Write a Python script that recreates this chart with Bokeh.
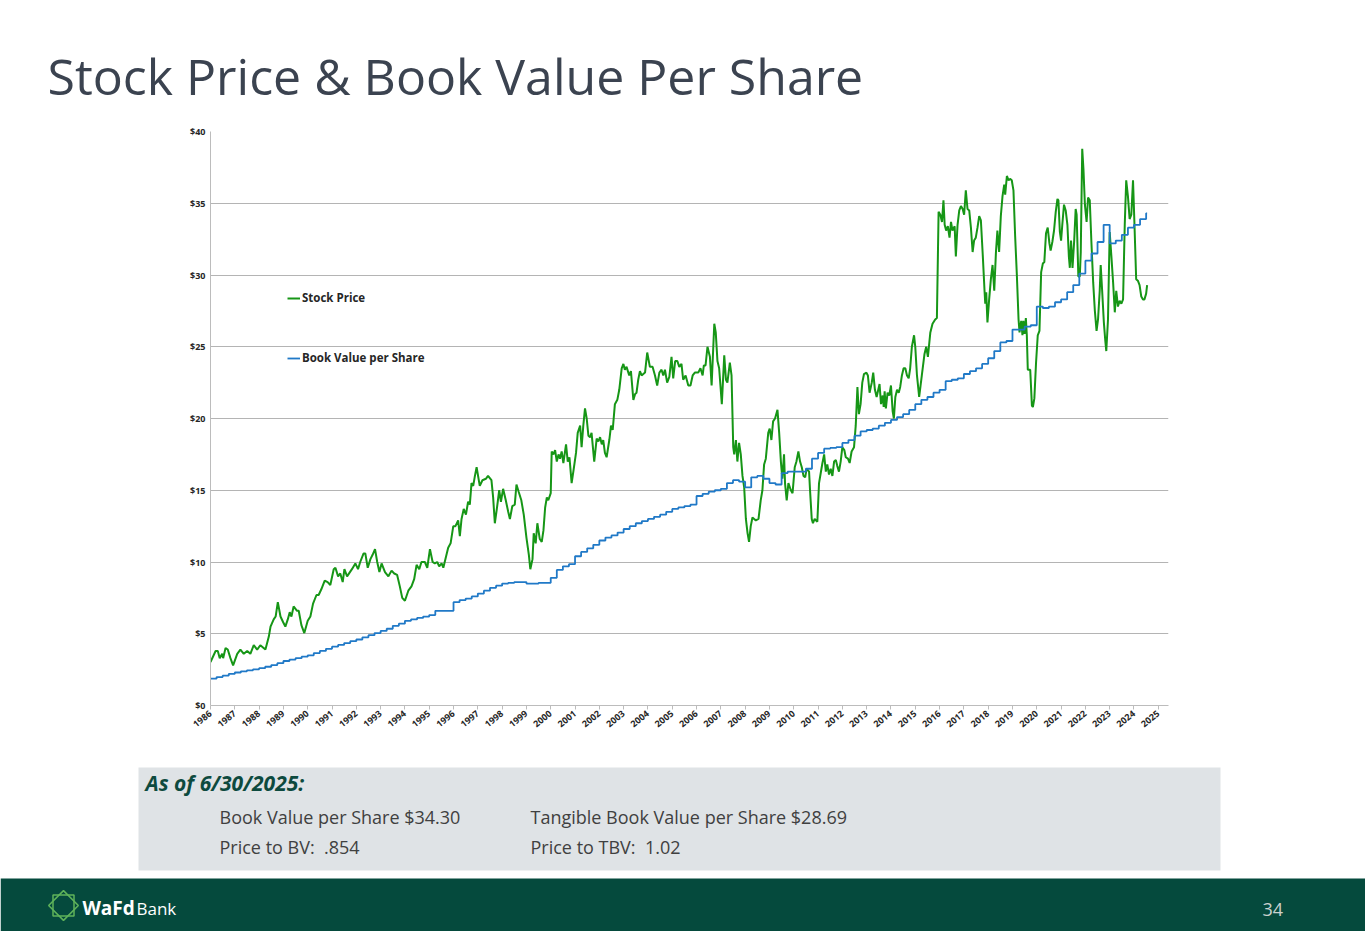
import numpy as np
from bokeh.core.properties import value
from bokeh.embed import file_html
from bokeh.layouts import column
from bokeh.models import (FixedTicker, Legend, LegendItem, NumeralTickFormatter,
                          PrintfTickFormatter, Range1d)
from bokeh.plotting import figure
from bokeh.resources import INLINE

# ---------------------------------------------------------------
# data (decimal year on the axis scale, $ / share)
# ---------------------------------------------------------------
stock_years = [
    1986.00, 1986.21, 1986.30, 1986.38, 1986.48, 1986.52, 1986.62, 1986.71, 1986.82, 1986.93,
    1987.10, 1987.23, 1987.37, 1987.51, 1987.64, 1987.78, 1987.92,
    1988.05, 1988.26, 1988.40, 1988.47, 1988.60, 1988.68, 1988.77, 1988.88, 1988.99,
    1989.08, 1989.18, 1989.26, 1989.33, 1989.42, 1989.56, 1989.63, 1989.74, 1989.86,
    1990.00, 1990.11, 1990.22, 1990.36, 1990.45, 1990.56, 1990.70, 1990.82, 1990.93,
    1991.07, 1991.14, 1991.25, 1991.34, 1991.44, 1991.51, 1991.62, 1991.82, 1991.96,
    1992.07, 1992.16, 1992.30, 1992.37, 1992.47, 1992.58, 1992.67, 1992.77, 1992.86, 1992.95,
    1993.04, 1993.18, 1993.32, 1993.45, 1993.56, 1993.68, 1993.79, 1993.89,
    1994.00, 1994.14, 1994.27, 1994.38, 1994.48, 1994.59, 1994.68, 1994.82, 1994.92,
    1995.03, 1995.14, 1995.23, 1995.33, 1995.41, 1995.51, 1995.58, 1995.68, 1995.78, 1995.88, 1995.99,
    1996.08, 1996.19, 1996.26, 1996.33, 1996.42, 1996.51, 1996.60, 1996.67, 1996.74, 1996.81, 1996.88, 1996.95,
    1997.08, 1997.19, 1997.33, 1997.42, 1997.56, 1997.63, 1997.70, 1997.79, 1997.88, 1997.95,
    1998.04, 1998.15, 1998.25, 1998.32, 1998.42, 1998.52, 1998.59, 1998.68, 1998.79, 1998.89,
    1999.00, 1999.10, 1999.16, 1999.25, 1999.30, 1999.38, 1999.45, 1999.55, 1999.63, 1999.70, 1999.77, 1999.84, 1999.90,
    2000.00, 2000.04, 2000.11, 2000.18, 2000.25, 2000.32, 2000.38, 2000.45, 2000.52, 2000.63, 2000.70, 2000.77, 2000.86, 2000.93,
    2001.04, 2001.11, 2001.21, 2001.27, 2001.34, 2001.41, 2001.48, 2001.55, 2001.62, 2001.68, 2001.79, 2001.89, 2001.96,
    2002.03, 2002.10, 2002.16, 2002.23, 2002.30, 2002.41, 2002.48, 2002.55, 2002.64, 2002.74, 2002.82, 2002.92, 2002.99,
    2003.05, 2003.12, 2003.23, 2003.30, 2003.40, 2003.47, 2003.53, 2003.60, 2003.67, 2003.74, 2003.88, 2003.97,
    2004.08, 2004.19, 2004.29, 2004.38, 2004.47, 2004.56, 2004.63, 2004.70, 2004.79, 2004.88, 2004.97,
    2005.04, 2005.12, 2005.21, 2005.29, 2005.38, 2005.45, 2005.55, 2005.66, 2005.75, 2005.84, 2005.93,
    2006.07, 2006.16, 2006.25, 2006.30, 2006.37, 2006.45, 2006.55, 2006.62, 2006.73, 2006.79, 2006.86, 2006.93,
    2007.04, 2007.14, 2007.21, 2007.27, 2007.37, 2007.44, 2007.51, 2007.55, 2007.62, 2007.68, 2007.75, 2007.82, 2007.89, 2007.96,
    2008.03, 2008.10, 2008.16, 2008.23, 2008.30, 2008.37, 2008.44, 2008.55, 2008.64, 2008.71, 2008.78, 2008.85, 2008.95,
    2009.01, 2009.08, 2009.15, 2009.23, 2009.33, 2009.40, 2009.47, 2009.53, 2009.60, 2009.64, 2009.71, 2009.78, 2009.88, 2009.95,
    2010.04, 2010.11, 2010.19, 2010.26, 2010.33, 2010.40, 2010.47, 2010.53, 2010.63, 2010.67, 2010.74, 2010.79, 2010.86, 2010.97,
    2011.04, 2011.11, 2011.18, 2011.25, 2011.32, 2011.38, 2011.45, 2011.52, 2011.59, 2011.66, 2011.73, 2011.79, 2011.86, 2011.93,
    2012.00, 2012.08, 2012.14, 2012.23, 2012.30, 2012.38, 2012.48, 2012.55, 2012.62, 2012.68, 2012.75, 2012.82, 2012.89, 2012.99,
    2013.05, 2013.12, 2013.21, 2013.27, 2013.34, 2013.41, 2013.53, 2013.59, 2013.66, 2013.70, 2013.74, 2013.79, 2013.86, 2013.93,
    2014.00, 2014.07, 2014.12, 2014.18, 2014.25, 2014.32, 2014.38, 2014.45, 2014.52, 2014.59, 2014.66, 2014.73, 2014.79, 2014.86, 2014.95,
    2015.00, 2015.07, 2015.16, 2015.27, 2015.38, 2015.45, 2015.52, 2015.62, 2015.71, 2015.82, 2015.89, 2015.96,
    2016.03, 2016.10, 2016.16, 2016.21, 2016.27, 2016.34, 2016.41, 2016.47, 2016.53, 2016.62, 2016.67, 2016.74, 2016.81, 2016.88, 2016.95,
    2017.01, 2017.08, 2017.15, 2017.22, 2017.29, 2017.36, 2017.42, 2017.49, 2017.56, 2017.63, 2017.70, 2017.78, 2017.85, 2017.88, 2017.92, 2017.97,
    2018.04, 2018.11, 2018.18, 2018.25, 2018.32, 2018.38, 2018.45, 2018.52, 2018.59, 2018.66, 2018.70, 2018.77, 2018.84, 2018.90, 2018.97,
    2019.04, 2019.11, 2019.18, 2019.25, 2019.29, 2019.36, 2019.41, 2019.45, 2019.50, 2019.55, 2019.59, 2019.63, 2019.73, 2019.80, 2019.84, 2019.90, 2019.97,
    2020.04, 2020.11, 2020.18, 2020.25, 2020.31, 2020.38, 2020.45, 2020.52, 2020.57, 2020.64, 2020.71, 2020.78, 2020.85, 2020.89, 2020.95,
    2021.00, 2021.05, 2021.12, 2021.19, 2021.26, 2021.32, 2021.36, 2021.41, 2021.47, 2021.54, 2021.60, 2021.64, 2021.71, 2021.77, 2021.81, 2021.87, 2021.92, 2021.98,
    2022.05, 2022.11, 2022.18, 2022.25, 2022.32, 2022.39, 2022.46, 2022.52, 2022.59, 2022.63, 2022.69, 2022.76, 2022.82, 2022.86, 2022.93,
    2023.00, 2023.07, 2023.14, 2023.21, 2023.27, 2023.34, 2023.41, 2023.48, 2023.55, 2023.62, 2023.68, 2023.75, 2023.82, 2023.89, 2023.96,
    2024.02, 2024.09, 2024.16, 2024.23, 2024.30, 2024.37, 2024.43, 2024.50, 2024.54,
]

stock_prices = [
    3.03, 3.8, 3.8, 3.3, 3.6, 3.3, 4.0, 3.9, 3.3, 2.8,
    3.6, 3.9, 3.6, 3.8, 3.6, 4.2, 3.9,
    4.2, 3.9, 4.8, 5.5, 6.0, 6.2, 7.2, 6.2, 5.8,
    5.5, 6.0, 6.5, 6.2, 6.9, 6.6, 6.6, 5.6, 5.05,
    5.9, 6.2, 7.1, 7.7, 7.7, 8.1, 8.7, 8.6, 8.4,
    9.5, 9.6, 9.0, 9.2, 8.6, 9.5, 9.0, 9.5, 9.9,
    9.5, 10.0, 10.6, 10.6, 9.6, 10.2, 10.5, 10.9, 10.0, 9.3,
    9.9, 9.3, 9.0, 9.4, 9.2, 9.1, 8.3, 7.5,
    7.3, 8.0, 8.3, 8.8, 9.8, 9.5, 10.0, 10.0, 9.6,
    10.9, 10.0, 9.9, 10.0, 9.7, 9.9, 9.6, 10.3, 11.0, 11.3, 12.5,
    12.5, 12.9, 11.8, 13.0, 13.7, 13.3, 14.2, 14.0, 15.5, 15.3, 16.0, 16.6,
    15.3, 15.7, 15.8, 16.0, 15.7, 14.5, 12.7, 13.8, 15.0, 14.2,
    15.1, 14.3, 13.5, 13.0, 13.9, 14.0, 15.4, 14.9, 14.3, 13.3,
    11.7, 10.5, 9.5, 10.2, 12.0, 11.3, 12.7, 11.6, 11.4, 12.2, 13.8, 14.5, 14.3,
    14.8, 17.7, 17.5, 17.8, 17.0, 17.5, 17.2, 17.7, 16.9, 18.2, 17.0, 17.3, 15.5, 16.3,
    17.6, 19.0, 19.5, 18.0, 19.5, 20.7, 20.0, 18.8, 18.7, 19.0, 17.0, 18.6, 18.4,
    18.7, 18.2, 18.5, 17.6, 17.3, 18.5, 19.5, 19.2, 21.0, 21.3, 22.0, 23.5, 23.8,
    23.4, 23.6, 23.0, 23.3, 21.3, 21.7, 21.8, 22.7, 23.3, 23.0, 23.2, 24.6,
    23.6, 23.6, 23.0, 22.3, 23.2, 23.4, 23.0, 23.4, 22.5, 22.9, 24.3,
    22.8, 24.0, 24.0, 23.6, 23.8, 22.7, 23.0, 22.3, 22.3, 23.0, 23.2,
    23.2, 23.5, 23.0, 23.7, 23.7, 25.0, 24.3, 22.3, 26.6, 26.0, 24.0, 23.5,
    21.0, 24.4, 22.7, 22.5, 23.9, 23.0, 18.0, 17.5, 18.5, 17.0, 18.3, 17.5, 16.0, 15.2,
    13.0, 12.0, 11.4, 12.5, 13.1, 13.0, 12.9, 13.0, 14.3, 15.0, 16.8, 17.2, 19.0,
    19.3, 18.5, 19.8, 20.0, 20.6, 19.0, 17.0, 15.8, 17.5, 15.5, 14.3, 15.5, 15.0, 14.8,
    16.6, 17.0, 17.7, 17.0, 16.6, 16.0, 15.9, 16.5, 16.3, 15.0, 13.0, 12.7, 13.0, 12.8,
    15.5, 16.2, 16.9, 17.5, 16.3, 16.8, 16.1, 16.5, 16.0, 17.0, 17.1, 16.7, 16.3, 17.0,
    18.0, 17.8, 17.3, 17.2, 16.9, 17.7, 18.0, 19.5, 22.2, 20.3, 21.0, 22.5, 23.1, 23.2,
    23.0, 21.8, 22.5, 23.2, 22.0, 21.5, 22.4, 21.0, 21.6, 20.8, 21.9, 20.7, 21.8, 21.6,
    22.3, 20.5, 20.0, 21.5, 22.0, 21.8, 22.2, 23.0, 23.5, 23.5, 23.0, 22.8, 23.5, 25.0, 25.8,
    25.0, 23.0, 21.5, 23.0, 24.5, 25.0, 24.3, 26.0, 26.6, 26.9, 27.0, 34.4,
    34.2, 33.7, 35.2, 33.5, 33.1, 33.4, 32.6, 33.7, 33.1, 33.4, 31.3, 33.5, 34.5, 34.8, 34.6,
    34.2, 35.9, 34.6, 34.5, 33.3, 31.6, 32.4, 32.6, 33.3, 34.1, 33.8, 31.3, 28.9, 28.0, 28.8, 26.7,
    28.3, 29.7, 30.7, 28.9, 31.6, 33.1, 31.6, 34.1, 35.5, 36.3, 35.6, 36.9, 36.6, 36.7, 36.6,
    35.9, 32.7, 30.0, 26.9, 26.0, 26.8, 25.8, 26.8, 25.9, 27.0, 25.8, 23.4, 23.4, 20.9, 20.8, 21.4, 23.9,
    25.8, 26.1, 30.2, 30.8, 30.9, 32.9, 33.3, 32.2, 31.7, 32.3, 33.1, 34.4, 35.3, 35.2, 33.0,
    32.4, 33.5, 34.9, 34.5, 33.5, 31.3, 30.5, 32.4, 30.5, 32.4, 34.6, 34.2, 29.9, 29.9, 31.6, 38.8, 37.4, 34.9,
    33.7, 35.4, 35.2, 32.2, 29.5, 27.5, 26.1, 26.9, 28.9, 30.7, 28.9, 26.7, 25.4, 24.7, 26.9,
    33.0, 31.3, 29.5, 27.4, 28.9, 27.8, 28.2, 28.0, 28.3, 33.5, 36.6, 35.5, 33.9, 34.2, 36.6,
    33.5, 29.7, 29.6, 29.3, 28.5, 28.3, 28.3, 28.7, 29.3,
]

# book value per share, one value per quarter from 1986 Q1
book_value = [
    1.87, 1.98, 2.08, 2.20,   2.30, 2.38, 2.45, 2.52,   2.60, 2.70, 2.82, 2.95,
    3.10, 3.20, 3.30, 3.40,   3.50, 3.65, 3.80, 3.95,   4.10, 4.22, 4.35, 4.48,
    4.60, 4.75, 4.90, 5.05,   5.20, 5.35, 5.55, 5.70,   5.90, 6.00, 6.10, 6.20,
    6.30, 6.60, 6.60, 6.60,   7.20, 7.35, 7.45, 7.60,   7.80, 8.00, 8.20, 8.35,
    8.50, 8.55, 8.60, 8.60,   8.50, 8.50, 8.55, 8.55,   8.90, 9.45, 9.70, 9.85,
    10.40, 10.70, 10.95, 11.20,   11.50, 11.70, 11.85, 12.05,   12.30, 12.50, 12.70, 12.85,
    13.00, 13.15, 13.30, 13.50,   13.70, 13.80, 13.90, 14.00,   14.60, 14.75, 14.90, 15.00,
    15.10, 15.50, 15.70, 15.60,   15.20, 15.90, 16.00, 15.80,   15.50, 15.40, 16.20, 16.30,
    16.30, 16.30, 16.50, 17.20,   17.60, 17.90, 17.95, 18.00,   18.30, 18.50, 18.80, 19.10,
    19.20, 19.30, 19.50, 19.70,   19.90, 20.10, 20.30, 20.60,   21.00, 21.30, 21.50, 21.80,
    22.00, 22.60, 22.70, 22.80,   23.10, 23.30, 23.50, 23.80,   24.20, 24.70, 25.30, 25.40,
    26.20, 26.20, 26.40, 26.50,   27.80, 27.70, 27.80, 28.10,   28.30, 28.80, 29.30, 30.10,
    31.00, 31.50, 32.30, 33.50,   32.20, 32.40, 32.80, 33.30,   33.50, 33.90, 34.30,
]

year_ticks = list(range(1986, 2026))
price_ticks = list(range(0, 41, 5))

W = 1365
GREEN = "#169616"
BLUE = "#2079c7"
FONT = "Open Sans"

bv_x = list(1986 + 0.25 * np.arange(len(book_value))) + [stock_years[-1]]
bv_y = book_value + [book_value[-1]]


def blank(h):
    # plain strip whose data units are slide pixels (y downwards)
    p = figure(width=W, height=h, x_range=Range1d(0, W), y_range=Range1d(h, 0),
               x_axis_location=None, y_axis_location=None, min_border=0, frame_align=False,
               output_backend="svg", toolbar_location=None)
    p.grid.visible = False
    p.outline_line_color = None
    return p


def write(p, x, baseline, txt, size, color, style="normal"):
    # the svg text ends up about 0.36 em below the given y, so lift it to the baseline
    p.text(x=[x], y=[baseline - 0.36 * size], text=[txt], text_font=value(FONT),
           text_font_size=f"{size}px", text_font_style=style, text_color=color,
           text_baseline="alphabetic")


# ------------------ title strip (slide y 0..118) ------------------
top = blank(118)
write(top, 47, 93, "Stock Price & Book Value Per Share", 50, "#3b4350")

# ------------------ chart (slide y 118..758), frame x 210..1168, y 131..705 ------------------
p = figure(width=W, height=640, x_range=Range1d(1986, 2025.42), y_range=Range1d(0, 40),
           min_border_left=210, min_border_right=197, min_border_top=13, min_border_bottom=53,
           frame_align=False, output_backend="svg", toolbar_location=None)
p.outline_line_color = None
p.xgrid.visible = False
p.ygrid.grid_line_color = "#b4b4b4"
p.ygrid.ticker = FixedTicker(ticks=price_ticks)

p.yaxis.ticker = FixedTicker(ticks=price_ticks)
p.yaxis.formatter = NumeralTickFormatter(format="$0")
p.xaxis.ticker = FixedTicker(ticks=year_ticks)
p.xaxis.formatter = PrintfTickFormatter(format="%d")
p.xaxis.major_label_orientation = 0.68
p.axis.axis_line_color = "#bcbcbc"
p.axis.major_tick_line_color = "#bcbcbc"
p.axis.minor_tick_line_color = None
p.xaxis.major_tick_out = 4
p.xaxis.major_tick_in = 0
p.yaxis.major_tick_out = 0
p.yaxis.major_tick_in = 0
p.axis.major_label_text_font = FONT
p.axis.major_label_text_font_style = "bold"
p.axis.major_label_text_font_size = "9px"
p.axis.major_label_text_color = "#262626"
p.yaxis.major_label_standoff = 5
p.xaxis.major_label_standoff = 3

r_stock = p.line(stock_years, stock_prices, line_color=GREEN, line_width=2)
r_bv = p.step(bv_x, bv_y, mode="after", line_color=BLUE, line_width=1.8)

legend = Legend(items=[LegendItem(label="Stock Price", renderers=[r_stock]),
                       LegendItem(label="Book Value per Share", renderers=[r_bv])],
                location=(77, 340), orientation="vertical", margin=0, padding=0,
                spacing=45, glyph_width=13, glyph_height=14, label_height=14,
                label_standoff=2, label_text_font=FONT, label_text_font_style="bold",
                label_text_font_size="11.5px", label_text_color="#262626",
                background_fill_alpha=0, border_line_color=None)
p.add_layout(legend)

# ------------------ info box + footer (slide y 758..931) ------------------
bot = blank(173)
bot.quad(left=[138], right=[1220], top=[9], bottom=[112], fill_color="#dfe3e6", line_color=None)
bot.quad(left=[0], right=[W], top=[120], bottom=[173], fill_color="#054a3d", line_color=None)

write(bot, 145, 32, "As of 6/30/2025:", 21, "#0d4a3e", "bold italic")
write(bot, 219, 65, "Book Value per Share $34.30", 18, "#404040")
write(bot, 530, 65, "Tangible Book Value per Share $28.69", 18, "#404040")
write(bot, 219, 95, "Price to BV:\u00a0 .854", 18, "#404040")
write(bot, 530, 95, "Price to TBV:\u00a0 1.02", 18, "#404040")

# logo mark: square and diamond outline, then the wordmark
bot.rect(x=[63, 63], y=[147, 147], width=21, height=21, angle=[0, np.pi / 4],
         fill_alpha=0, line_color="#5fb35a", line_width=1.5)
write(bot, 82, 156, "WaFd", 19, "white", "bold")
write(bot, 136, 156, "Bank", 17, "white")
write(bot, 1262, 157, "34", 18, "#c9d1ce")

layout = column(top, p, bot, spacing=0)

open("out.html", "w").write(file_html(layout, INLINE))
